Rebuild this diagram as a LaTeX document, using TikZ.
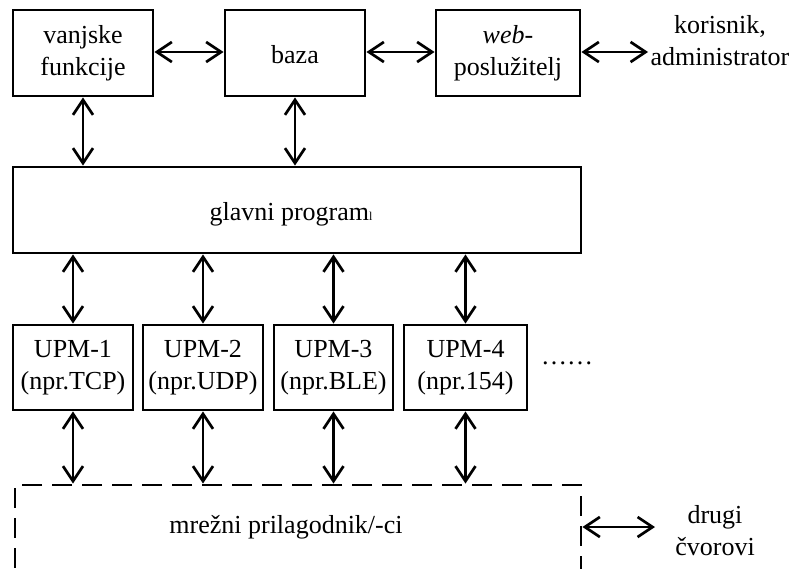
\documentclass[tikz,border=0pt]{standalone}
\usepackage{fontspec}
\setmainfont{Liberation Serif}
\usetikzlibrary{arrows.meta}
\tikzset{
  box/.style={draw, line width=2.9pt, rectangle, inner sep=0pt, align=center,
    font=\fontsize{26}{32}\selectfont},
  lbl/.style={inner sep=0pt, align=center, font=\fontsize{26}{32}\selectfont},
  biarrow/.style={line width=2.7pt,
    {Straight Barb[length=15pt,width=20pt]}-{Straight Barb[length=15pt,width=20pt]}},
  dashbox/.style={draw, line width=2.9pt, dash pattern=on 20pt off 10pt, rectangle, inner sep=0pt}
}
\begin{document}
\begin{tikzpicture}[x=1pt,y=-1pt]
\useasboundingbox (0,0) rectangle (794,568);
\clip (0,0) rectangle (794,568);
% top row
\node[box, minimum width=140pt, minimum height=86pt] (vf) at (83,53) {vanjske\\funkcije};
\node[box, minimum width=140pt, minimum height=86pt] (baza) at (295,53) {};
\node[lbl] (bazat) at (295,55) {baza};
\node[box, minimum width=144pt, minimum height=86pt] (web) at (508,53) {\textit{web}-\\poslužitelj};
\node[lbl] (kor) at (720,41) {korisnik,\\administrator};
\coordinate (korc) at (648,52);
% main program
\node[box, minimum width=568pt, minimum height=86pt] (gp) at (297,210) {};
\node[lbl] (gpt) at (291,214) {glavni program{\fontsize{12}{12}\selectfont l}};
% UPM boxes
\node[box, minimum width=120pt, minimum height=85pt] (u1) at (73,367.5) {UPM-1\\(npr.TCP)};
\node[box, minimum width=120pt, minimum height=85pt] (u2) at (203,367.5) {UPM-2\\(npr.UDP)};
\node[box, minimum width=119pt, minimum height=85pt] (u3) at (333.5,367.5) {UPM-3\\(npr.BLE)};
\node[box, minimum width=123pt, minimum height=85pt] (u4) at (465.5,367.5) {UPM-4\\(npr.154)};
\node[lbl] (dots) at (567,363) {……};
% network adapter
\node[dashbox, minimum width=566pt, minimum height=155pt] (mr) at (298,562.5) {};
\node[lbl] (mrt) at (286,527) {mrežni prilagodnik/-ci};
\node[lbl] (dr) at (715,531) {drugi\\čvorovi};
\coordinate (drc) at (655,527);
% connectors
\draw[biarrow] (vf.east |- 0,52) -- (baza.west |- 0,52);
\draw[biarrow] (baza.east |- 0,52) -- (web.west |- 0,52);
\draw[biarrow] (web.east |- korc) -- (korc);
\draw[biarrow] (vf.south) -- (vf.south |- gp.north);
\draw[biarrow] (baza.south) -- (baza.south |- gp.north);
\draw[biarrow] (u1.north |- gp.south) -- (u1.north);
\draw[biarrow] (u2.north |- gp.south) -- (u2.north);
\draw[biarrow] (u3.north |- gp.south) -- (u3.north);
\draw[biarrow] (u4.north |- gp.south) -- (u4.north);
\draw[biarrow] (u1.south) -- (u1.south |- mr.north);
\draw[biarrow] (u2.south) -- (u2.south |- mr.north);
\draw[biarrow] (u3.south) -- (u3.south |- mr.north);
\draw[biarrow] (u4.south) -- (u4.south |- mr.north);
\draw[biarrow] (mr.east |- drc) -- (drc);
\end{tikzpicture}
\end{document}
